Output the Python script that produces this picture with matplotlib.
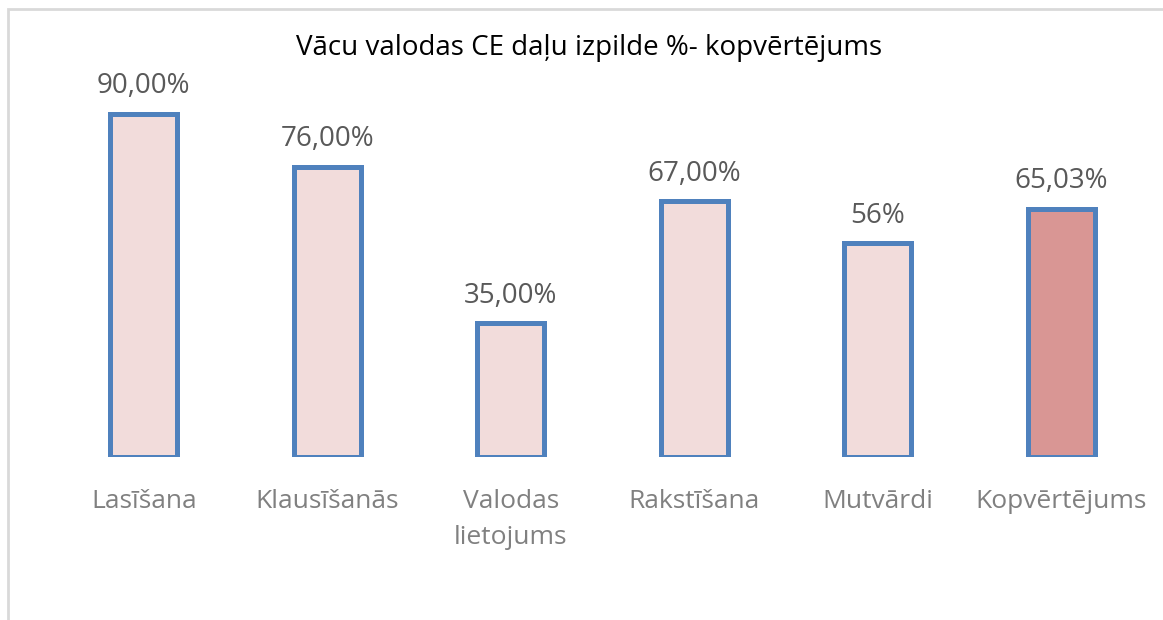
import matplotlib.pyplot as plt
from matplotlib.patches import Rectangle

categories = ["Lasīšana", "Klausīšanās", "Valodas\nlietojums", "Rakstīšana", "Mutvārdi", "Kopvērtējums"]
values = [90.00, 76.00, 35.00, 67.00, 56.00, 65.03]
labels = ["90,00%", "76,00%", "35,00%", "67,00%", "56%", "65,03%"]
fills = ["#F2DCDB", "#F2DCDB", "#F2DCDB", "#F2DCDB", "#F2DCDB", "#D99694"]
title = "Vācu valodas CE daļu izpilde %- kopvērtējums"


def main():
    plt.rcParams["font.family"] = ["Open Sans", "DejaVu Sans"]
    fig = plt.figure(figsize=(11.63, 6.2), dpi=100)

    # cadre gris clair (seulement gauche et haut visibles)
    fig.patches.append(Rectangle((8 / 1163, -0.1), 1.2, (620 - 9) / 620 + 0.1,
                                 transform=fig.transFigure, fill=False,
                                 edgecolor="#D9D9D9", linewidth=2))

    ax = fig.add_axes([52 / 1163, 0.263, 1101 / 1163, 0.615])
    x = range(len(categories))
    bars = ax.bar(x, values, width=0.365, color=fills, edgecolor="#4F81BD", linewidth=3.6)
    for b, lab in zip(bars, labels):
        ax.annotate(lab, (b.get_x() + b.get_width() / 2, b.get_height()),
                    xytext=(0, 10), textcoords="offset points",
                    ha="center", va="bottom", fontsize=20, color="#595959")

    ax.set_xlim(-0.5, len(categories) - 0.5)
    ax.set_ylim(0, 100)
    ax.set_xticks(list(x))
    ax.set_xticklabels(categories, fontsize=19, color="#808080", linespacing=1.6, va="top")
    ax.tick_params(axis="x", length=0, pad=23)
    ax.set_yticks([])
    for s in ax.spines.values():
        s.set_visible(False)

    fig.text(589 / 1163, 1 - 48 / 620, title, ha="center", va="center", fontsize=20, color="black")

    fig.savefig("out.png", dpi=100)
    plt.close()


if __name__ == "__main__":
    main()
